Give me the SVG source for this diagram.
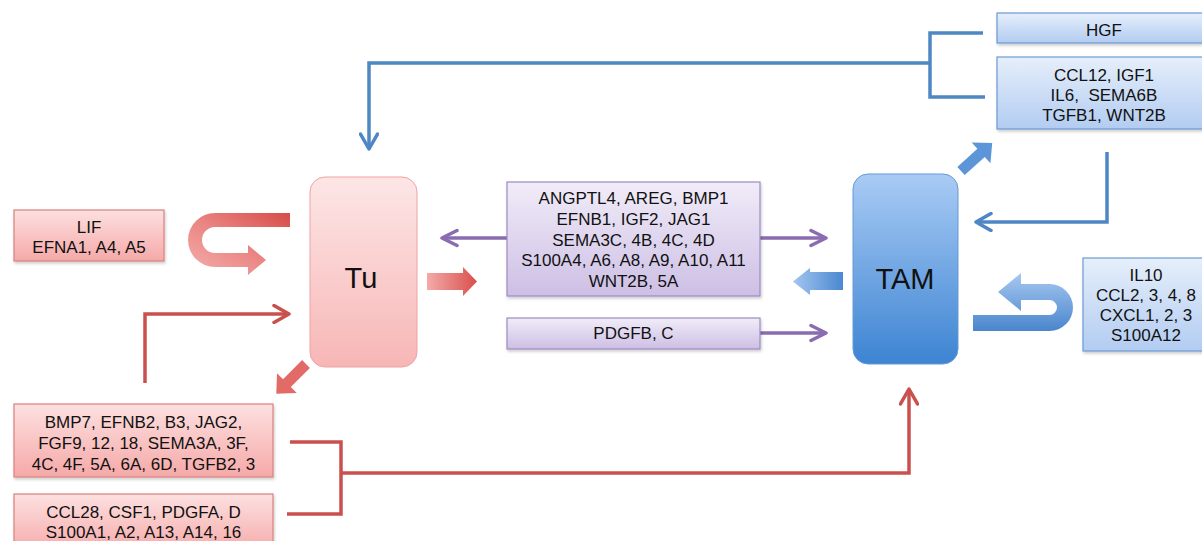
<svg xmlns="http://www.w3.org/2000/svg" width="1202" height="541" viewBox="0 0 1202 541">
<defs>
<linearGradient id="gRed" x1="0" y1="0" x2="0" y2="1"><stop offset="0" stop-color="#fde0e0"/><stop offset="1" stop-color="#f5a9a8"/></linearGradient>
<linearGradient id="gPur" x1="0" y1="0" x2="0" y2="1"><stop offset="0" stop-color="#f1ecf8"/><stop offset="1" stop-color="#cdbfe5"/></linearGradient>
<linearGradient id="gBlu" x1="0" y1="0" x2="0" y2="1"><stop offset="0" stop-color="#e6effb"/><stop offset="1" stop-color="#b2ccf1"/></linearGradient>
<linearGradient id="gTu" x1="0" y1="0" x2="0" y2="1"><stop offset="0" stop-color="#fde6e6"/><stop offset="1" stop-color="#f7b6b6"/></linearGradient>
<linearGradient id="gTam" x1="0" y1="0" x2="0" y2="1"><stop offset="0" stop-color="#a9cbf5"/><stop offset="1" stop-color="#3d84d2"/></linearGradient>
<linearGradient id="gRedArr" x1="0" y1="0" x2="1" y2="0"><stop offset="0" stop-color="#f3aaa9"/><stop offset="1" stop-color="#d9504c"/></linearGradient>
<linearGradient id="gRedU" x1="0" y1="1" x2="1" y2="0"><stop offset="0" stop-color="#f4b0af"/><stop offset="0.5" stop-color="#ea8482"/><stop offset="1" stop-color="#d64c48"/></linearGradient>
<linearGradient id="gBluArr" x1="0" y1="0" x2="1" y2="0"><stop offset="0" stop-color="#a3c5f0"/><stop offset="1" stop-color="#4a88d0"/></linearGradient>
<linearGradient id="gBluU" x1="0" y1="0" x2="0" y2="1"><stop offset="0" stop-color="#a7c8f2"/><stop offset="1" stop-color="#4a86cc"/></linearGradient>
<filter id="sh" x="-10%" y="-10%" width="125%" height="130%"><feDropShadow dx="1" dy="2" stdDeviation="1.5" flood-color="#000" flood-opacity="0.2"/></filter>
<marker id="mRed" viewBox="0 0 20 20" refX="17" refY="10" markerWidth="20" markerHeight="20" markerUnits="userSpaceOnUse" orient="auto"><path d="M2,1.5 L17,10 L2,18.5" fill="none" stroke="#c9504d" stroke-width="3.5" stroke-linecap="round" stroke-linejoin="round"/></marker>
<marker id="mBlu" viewBox="0 0 20 20" refX="17" refY="10" markerWidth="20" markerHeight="20" markerUnits="userSpaceOnUse" orient="auto"><path d="M2,1.5 L17,10 L2,18.5" fill="none" stroke="#4f86c4" stroke-width="3.5" stroke-linecap="round" stroke-linejoin="round"/></marker>
<marker id="mPur" viewBox="0 0 20 20" refX="17" refY="10" markerWidth="20" markerHeight="20" markerUnits="userSpaceOnUse" orient="auto"><path d="M2,2.5 L17,10 L2,17.5" fill="none" stroke="#8a6db0" stroke-width="3.5" stroke-linecap="round" stroke-linejoin="round"/></marker>
</defs>
<style>
text{font-family:"Liberation Sans",Arial,sans-serif;font-size:17px;fill:#111;text-anchor:middle}
.big{font-size:29px}
.rbox{fill:url(#gRed);stroke:#d9807e;stroke-width:1.2;filter:url(#sh)}
.pbox{fill:url(#gPur);stroke:#9d8ac3;stroke-width:1.2;filter:url(#sh)}
.bbox{fill:url(#gBlu);stroke:#6c9ad4;stroke-width:1.2;filter:url(#sh)}
.lr{fill:none;stroke:#c9504d;stroke-width:3.5}
.lb{fill:none;stroke:#4f86c4;stroke-width:3.5}
.lp{fill:none;stroke:#8a6db0;stroke-width:3.5}
</style>
<rect width="1202" height="541" fill="#fff"/>

<g id="connectors">
<path class="lb" d="M983,33 H930 V97 H985"/>
<path class="lb" d="M930,63 H369 V149" marker-end="url(#mBlu)"/>
<path class="lb" d="M1107,152 V222 H976" marker-end="url(#mBlu)"/>
<path class="lr" d="M145,383 V314 H289" marker-end="url(#mRed)"/>
<path class="lr" d="M290,442 H341 V514 H287"/>
<path class="lr" d="M341,473 H909 V389" marker-end="url(#mRed)"/>
<path class="lp" d="M507,238 H442" marker-end="url(#mPur)"/>
<path class="lp" d="M760,238 H826" marker-end="url(#mPur)"/>
<path class="lp" d="M760,333 H826" marker-end="url(#mPur)"/>
<path d="M290,213 H215 A27,27 0 0 0 215,267 H248 V275 L266,260 L248,245 V253 H215 A13,13 0 0 1 215,227 H290 Z" fill="url(#gRedU)"/>
<path d="M427,273 H463 V267 L477,281.5 L463,296 V290 H427 Z" fill="url(#gRedArr)"/>
<path d="M0,-5.5 H27 V-14 L42,0 L27,14 V5.5 H0 Z" fill="#e26b68" transform="translate(306,364) rotate(135)"/>
<path d="M843,272 H810 V268 L793,281.5 L810,295 V290 H843 Z" fill="url(#gBluArr)"/>
<path d="M973,331 H1049.5 A23.5,23.5 0 0 0 1049.5,284 H1021 V273 L998,292 L1021,311 V300 H1049.5 A7.5,7.5 0 0 1 1049.5,315 H973 Z" fill="url(#gBluU)"/>
<path d="M0,-5.5 H27 V-14 L42,0 L27,14 V5.5 H0 Z" fill="#5d96d8" transform="translate(961,171) rotate(-42)"/>
</g>

<g id="tu">
<rect x="310" y="177" width="107" height="190" rx="15" fill="url(#gTu)" stroke="#eea3a3" stroke-width="1"/>
<text class="big" x="361" y="288">Tu</text>
</g>
<g id="tam">
<rect x="853" y="174" width="105" height="190" rx="15" fill="url(#gTam)" stroke="#6699d6" stroke-width="1"/>
<text class="big" x="905" y="289">TAM</text>
</g>

<g id="lif">
<rect class="rbox" x="14" y="210" width="150" height="51"/>
<text x="89" y="233">LIF</text>
<text x="89" y="253">EFNA1, A4, A5</text>
</g>

<g id="red1">
<rect class="rbox" x="14" y="404" width="259" height="73"/>
<text x="143.5" y="428">BMP7, EFNB2, B3, JAG2,</text>
<text x="143.5" y="449">FGF9, 12, 18, SEMA3A, 3F,</text>
<text x="143.5" y="470">4C, 4F, 5A, 6A, 6D, TGFB2, 3</text>
</g>
<g id="red2">
<rect class="rbox" x="14" y="494" width="259" height="60"/>
<text x="143.5" y="518">CCL28, CSF1, PDGFA, D</text>
<text x="143.5" y="538">S100A1, A2, A13, A14, 16</text>
</g>

<g id="pur1">
<rect class="pbox" x="507" y="182" width="253" height="114"/>
<text x="633.5" y="204">ANGPTL4, AREG, BMP1</text>
<text x="633.5" y="225">EFNB1, IGF2, JAG1</text>
<text x="633.5" y="246">SEMA3C, 4B, 4C, 4D</text>
<text x="633.5" y="266">S100A4, A6, A8, A9, A10, A11</text>
<text x="633.5" y="287">WNT2B, 5A</text>
</g>
<g id="pur2">
<rect class="pbox" x="507" y="318" width="253" height="31"/>
<text x="633.5" y="339">PDGFB, C</text>
</g>

<g id="hgf">
<rect class="bbox" x="997" y="13" width="215" height="30"/>
<text x="1104" y="36">HGF</text>
</g>
<g id="blu2">
<rect class="bbox" x="997" y="57" width="215" height="72"/>
<text x="1104" y="81">CCL12, IGF1</text>
<text x="1104" y="101" xml:space="preserve">IL6,  SEMA6B</text>
<text x="1104" y="121">TGFB1, WNT2B</text>
</g>
<g id="il10">
<rect class="bbox" x="1083" y="258" width="129" height="93"/>
<text x="1146" y="281">IL10</text>
<text x="1146" y="301">CCL2, 3, 4, 8</text>
<text x="1146" y="321">CXCL1, 2, 3</text>
<text x="1146" y="341">S100A12</text>
</g>
</svg>
